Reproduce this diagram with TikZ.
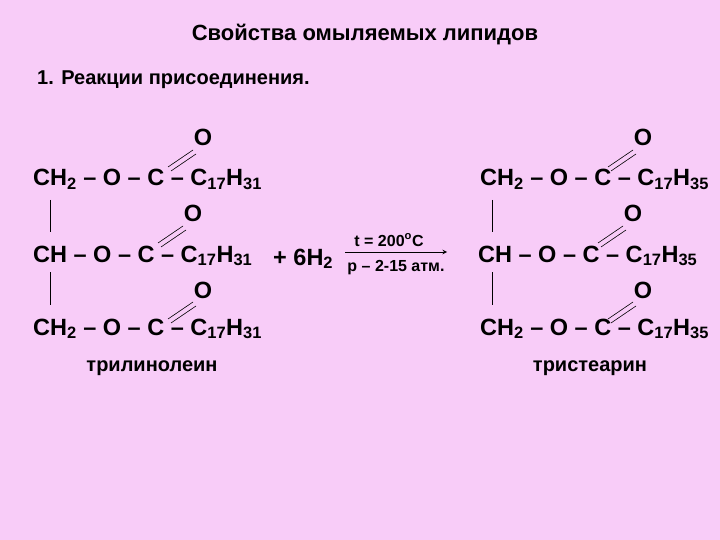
\documentclass[tikz,border=0pt]{standalone}
\usepackage{fontspec}
\setmainfont{Liberation Sans}
\begin{document}
\begin{tikzpicture}[x=1pt,y=-1pt,
  row/.style={anchor=base west,inner sep=0pt,font=\bfseries\fontsize{23.5}{26}\selectfont},
  oxy/.style={anchor=base,inner sep=0pt,font=\bfseries\fontsize{23.5}{26}\selectfont},
  txt/.style={inner sep=0pt,font=\bfseries\fontsize{20}{24}\selectfont},
  small/.style={inner sep=0pt,font=\bfseries\fontsize{16}{19}\selectfont},
  bond/.style={line width=0.6pt},
  vb/.style={line width=0.6pt}]
\fill[fill={rgb,255:red,248;green,204;blue,248}] (0,0) rectangle (720,540);
\useasboundingbox (0,0) rectangle (720,540);
\node[txt,font=\bfseries\fontsize{22}{26}\selectfont] (title) at (365,35) {Свойства омыляемых липидов};
\node[txt,anchor=west] (sub) at (37,80) {1. Реакции присоединения.};
\newcommand{\myrow}[5]{%
 \node[row] (#1) at (#2,#3) {#4 – O – C – C\textsubscript{17}H\textsubscript{#5}};}
\myrow{l1}{33}{186}{CH\textsubscript{2}}{31}
\myrow{l2}{33}{262}{CH}{31}
\myrow{l3}{33}{335}{CH\textsubscript{2}}{31}
\myrow{r1}{480}{186}{CH\textsubscript{2}}{35}
\myrow{r2}{478}{262}{CH}{35}
\myrow{r3}{480}{335}{CH\textsubscript{2}}{35}
\newcommand{\myox}[3]{%
 \node[oxy] (#1) at (#2,#3) {O};
 \draw[bond] (#2-35,#3+21) -- (#2-10,#3+4);
 \draw[bond] (#2-32,#3+25) -- (#2-7,#3+8);}
\myox{o1}{203}{146}
\myox{o2}{193}{222}
\myox{o3}{203}{298}
\myox{o4}{643}{146}
\myox{o5}{633}{222}
\myox{o6}{643}{298}
\draw[vb] (50,200) -- (50,232) (50,272) -- (50,305);
\draw[vb] (492,200) -- (492,232) (492,272) -- (492,305);
\node[row] (h2) at (273,265) {+ 6H\textsubscript{2}};
\coordinate (a1) at (345,252);
\coordinate (a2) at (447,252);
\draw[-stealth,line width=1pt] (a1) -- (a2);
\node[small] (t) at (389,240) {t = 200\textsuperscript{o}C};
\node[small] (p) at (396,268) {р – 2-15 атм.};
\node[txt] (n1) at (152,368) {трилинолеин};
\node[txt] (n2) at (590,368) {тристеарин};
\end{tikzpicture}
\end{document}
